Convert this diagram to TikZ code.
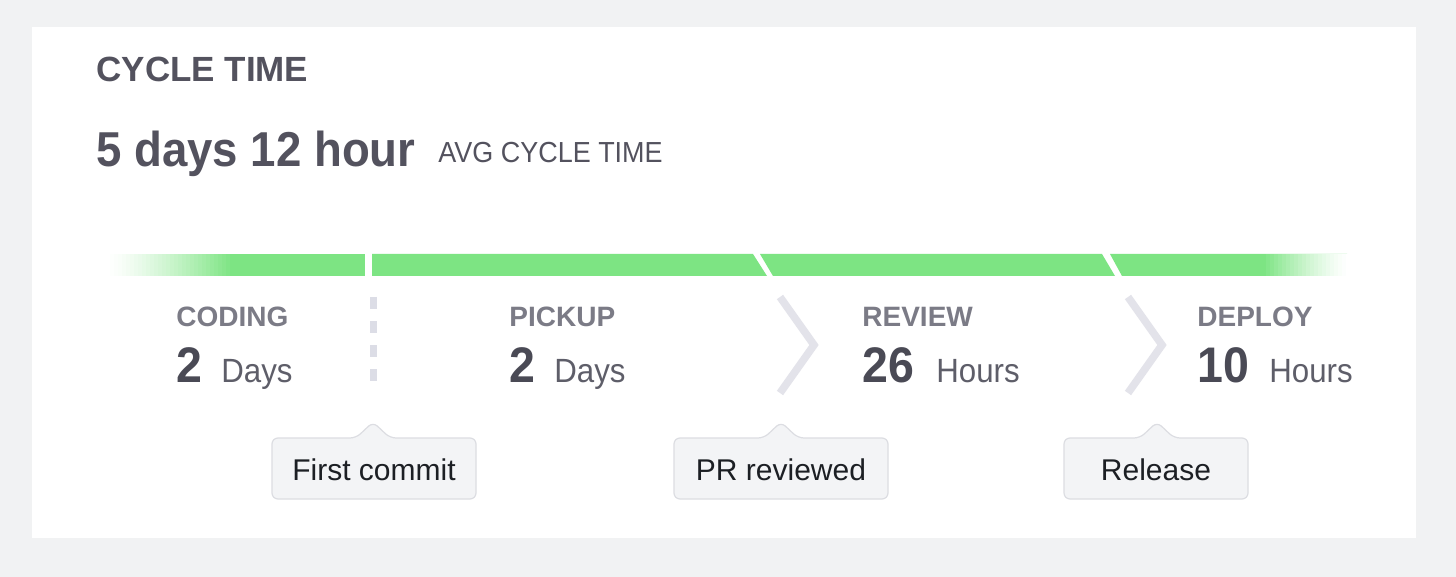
\documentclass[tikz,border=0pt]{standalone}
\usepackage{fontspec}
\setmainfont{Liberation Sans}
\newfontfamily\narrow{Liberation Sans}[FakeStretch=0.93]
\definecolor{bgGray}{HTML}{F1F2F3}
\definecolor{barGreen}{HTML}{7DE483}
\definecolor{headText}{HTML}{53525E}
\definecolor{stageText}{HTML}{7B7B86}
\definecolor{numText}{HTML}{4A4A55}
\definecolor{unitText}{HTML}{5E5E69}
\definecolor{sepGray}{HTML}{E3E3EA}
\definecolor{dashGray}{HTML}{DCDDE6}
\definecolor{tipFill}{HTML}{F3F4F6}
\definecolor{tipLine}{HTML}{DCDDE2}
\definecolor{tipText}{HTML}{1C1F24}
\begin{document}
\begin{tikzpicture}[x=0.5pt,y=-0.5pt,
  lbl/.style={inner sep=0pt, anchor=base west},
  stagelbl/.style={lbl, text=stageText, font=\fontsize{14}{16}\selectfont\bfseries},
  bignum/.style={lbl, text=numText, font=\narrow\fontsize{25}{28}\selectfont\bfseries},
  unit/.style={lbl, text=unitText, font=\narrow\fontsize{16.8}{19}\selectfont},
  chev/.style={draw=sepGray, line width=3.8pt, line join=miter},
  tipbox/.style={draw=tipLine, fill=tipFill, line width=0.6pt, rounded corners=3pt},
  tiplbl/.style={inner sep=0pt, anchor=base, text=tipText, font=\fontsize{15}{18}\selectfont},
  seg/.style={fill=barGreen}
]
\useasboundingbox (0,0) rectangle (1456,577);
\fill[bgGray] (0,0) rectangle (1456,577);
\fill[white] (32,27) rectangle (1416,538);

% headers
\node[lbl, text=headText, font=\fontsize{17.5}{20}\selectfont\bfseries] (title) at (96,82) {CYCLE TIME};
\node[lbl, text=headText, font=\narrow\fontsize{24.5}{28}\selectfont\bfseries] (avgval) at (96,167) {5 days 12 hour};
\node[lbl, text=headText, font=\narrow\fontsize{14.5}{17}\selectfont] (avglbl) at (438,163) {AVG CYCLE TIME};

% bar
\fill[seg] (110,254) -- (365,254) -- (365,276) -- (110,276) -- cycle;
\fill[seg] (372,254) -- (753,254) -- (767,276) -- (372,276) -- cycle;
\fill[seg] (760,254) -- (1102,254) -- (1115,276) -- (773,276) -- cycle;
\fill[seg] (1110,254) -- (1347,254) -- (1347,276) -- (1122,276) -- cycle;
% fades at both ends
\foreach \i in {0,...,31} {
  \pgfmathsetmacro{\p}{100*(\i/31)^1.3}
  \fill[barGreen!\p!white] (106+4*\i,254) rectangle (110.5+4*\i,276);
}
\foreach \i in {0,...,21} {
  \pgfmathsetmacro{\p}{100*(\i/21)^1.3}
  \fill[barGreen!\p!white] (1350-4*\i,254) rectangle (1345.5-4*\i,276);
}

% separators
\draw[dashGray, line width=3.5pt, dash pattern=on 6pt off 6pt] (373,297) -- (373,384);
\draw[chev] (780,297) -- (814,345) -- (780,393);
\draw[chev] (1128,297) -- (1162,345) -- (1128,393);

% stages
\node[stagelbl] (codingL) at (176,326) {CODING};
\node[bignum] (codingN) at (176,382) {2};
\node[unit] (codingU) at (221,382) {Days};

\node[stagelbl] (pickupL) at (509,326) {PICKUP};
\node[bignum] (pickupN) at (509,382) {2};
\node[unit] (pickupU) at (554,382) {Days};

\node[stagelbl] (reviewL) at (862,326) {REVIEW};
\node[bignum] (reviewN) at (862,382) {26};
\node[unit] (reviewU) at (936,382) {Hours};

\node[stagelbl] (deployL) at (1197,326) {DEPLOY};
\node[bignum] (deployN) at (1197,382) {10};
\node[unit] (deployU) at (1269,382) {Hours};

% tooltips
\draw[tipbox] (272,499) -- (272,438) -- (356,438) -- (373,422) -- (390,438) -- (476,438) -- (476,499) -- cycle;
\node[tiplbl] (tip1) at (374,480) {First commit};
\draw[tipbox] (674,499) -- (674,438) -- (764,438) -- (781,422) -- (798,438) -- (888,438) -- (888,499) -- cycle;
\node[tiplbl] (tip2) at (781,480) {PR reviewed};
\draw[tipbox] (1064,499) -- (1064,438) -- (1140,438) -- (1157,422) -- (1174,438) -- (1248,438) -- (1248,499) -- cycle;
\node[tiplbl] (tip3) at (1156,480) {Release};
\end{tikzpicture}
\end{document}
